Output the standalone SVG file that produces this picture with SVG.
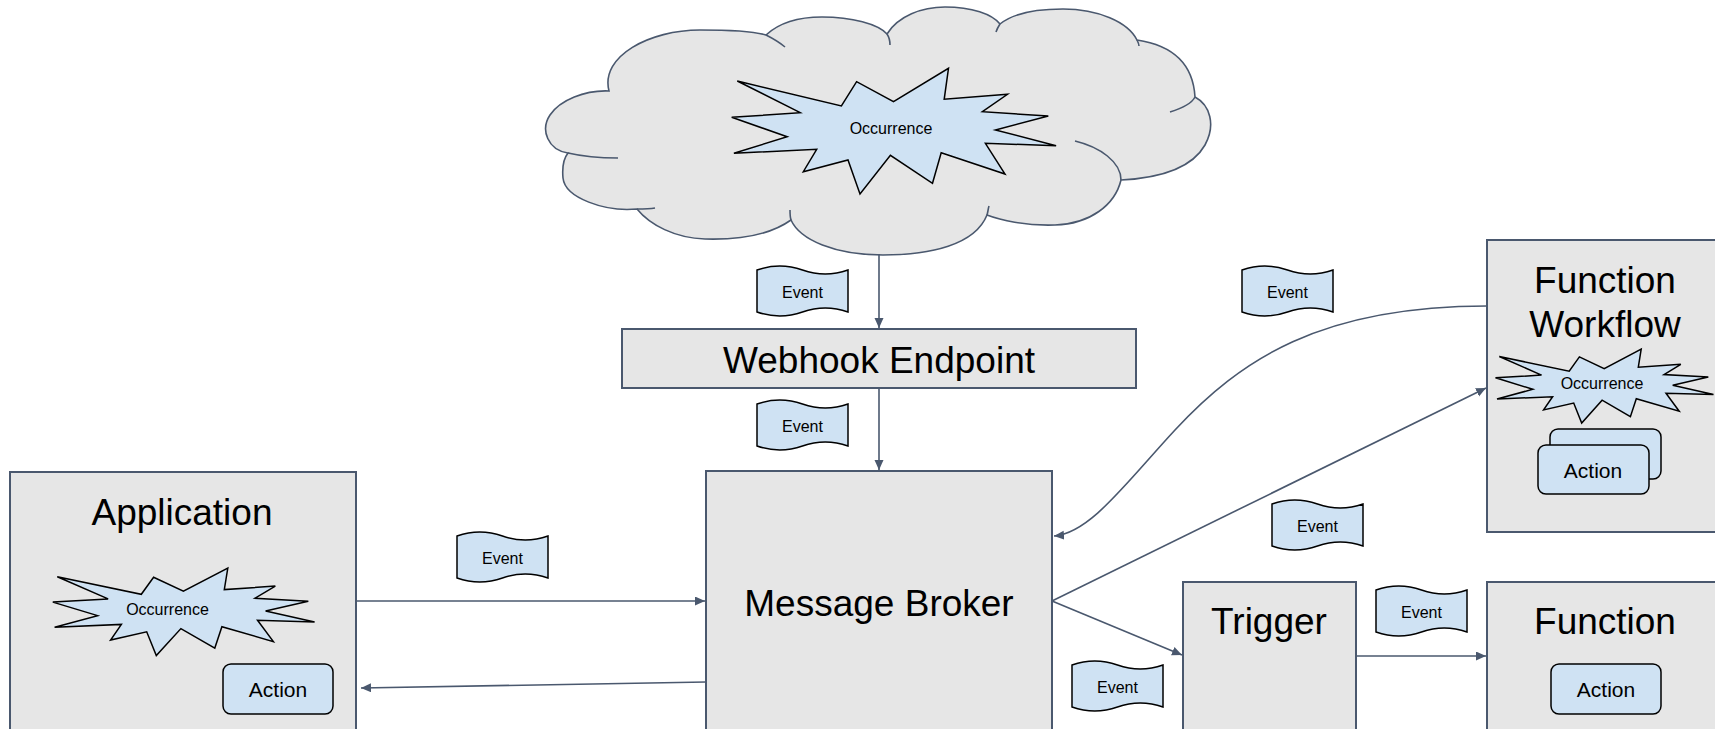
<svg xmlns="http://www.w3.org/2000/svg" width="1715" height="729" viewBox="0 0 1715 729">
<defs>
<style>
.box{fill:#e6e6e6;stroke:#4a586e;stroke-width:2}
.cloud{fill:#e6e6e6;stroke:#4a586e;stroke-width:1.6}
.stub{fill:none;stroke:#4a586e;stroke-width:1.6}
.lbl{font-family:"Liberation Sans",Arial,sans-serif;font-size:37px;fill:#000;text-anchor:middle}
.sm{font-family:"Liberation Sans",Arial,sans-serif;font-size:16px;fill:#000;text-anchor:middle}
.act{font-family:"Liberation Sans",Arial,sans-serif;font-size:21px;fill:#000;text-anchor:middle}
.burst{fill:#cfe2f3;stroke:#000;stroke-width:1.5;stroke-linejoin:miter}
.flag{fill:#cfe2f3;stroke:#000;stroke-width:1.5}
.action{fill:#cfe2f3;stroke:#000;stroke-width:1.5}
.conn{fill:none;stroke:#4a586e;stroke-width:1.6;marker-end:url(#ah)}
</style>
<marker id="ah" markerUnits="userSpaceOnUse" markerWidth="11" markerHeight="10" refX="10" refY="4.5" orient="auto"><path d="M0,0 L10,4.5 L0,9 z" fill="#4a586e"/></marker>
<path id="flag" d="M0,4 Q22.75,-4 45.5,4 T91,4 L91,46 Q68.25,38 45.5,46 T0,46 Z"/>
</defs>
<rect width="1715" height="729" fill="#fff"/>

<g id="cloud">
<path class="cloud" d="M609,91 C600,56 650,30 700,30 C735,30 756,32 766,35 C780,22 800,17 822,17 C852,17 878,24 887,34 C898,16 922,7 945,7 C972,7 992,14 1000,24 C1015,12 1040,9 1063,9 C1098,9 1128,22 1137,40 C1170,45 1193,62 1195,97 C1210,105 1216,125 1205,145 C1192,168 1160,178 1121,180 C1115,205 1090,224 1055,225 C1025,226 1000,220 987,215 C975,245 930,255 883,255 C835,255 800,240 791,220 C770,235 740,240 705,239 C675,238 650,225 637,209 C605,212 565,198 563,178 C562,167 564,158 568,153 C548,150 540,130 550,115 C560,100 585,90 609,91 Z"/>
<path class="stub" d="M766,35 C772,38 779,42 785,47 M887,34 C889,37 890,41 890,45 M1000,24 C998,27 997,29 996,32 M1137,40 C1138,42 1139,44 1139,46 M1195,97 C1192,103 1183,108 1170,112 M1121,180 C1121,162 1100,147 1075,141 M987,215 C988,212 988,209 989,206 M791,220 C790,217 790,213 790,210 M637,209 C643,209 649,209 655,208 M568,153 C585,157 600,158 618,158"/>
<polygon class="burst" points="737.3,81 841.4,106 856.6,81.7 893.5,101.7 948.5,68.3 944.2,99.3 1007.5,94.3 982.4,111.7 1048.3,116 995.4,130 1056.1,145.7 985.4,143.3 1005,174 941.2,152.7 932.5,183.3 890.4,155.3 860,194 848,160 803.3,171.7 816.7,149.3 733.9,153.3 787.2,136.7 731.7,117.3 800.2,112.7"/>
<text class="sm" x="891" y="133.5">Occurrence</text>
</g>

<g id="connectors">
<line class="conn" x1="879" y1="254" x2="879" y2="328"/>
<line class="conn" x1="879" y1="388" x2="879" y2="470"/>
<line class="conn" x1="357" y1="601" x2="705" y2="601"/>
<line class="conn" x1="706" y1="682" x2="361" y2="688"/>
<path class="conn" d="M1487,306 C1320,306 1240,360 1175,430 C1125,484 1090,533 1054,536"/>
<line class="conn" x1="1052" y1="601" x2="1486" y2="388"/>
<line class="conn" x1="1052" y1="601" x2="1182" y2="655"/>
<line class="conn" x1="1356" y1="656" x2="1486" y2="656"/>
</g>

<g id="webhook">
<rect class="box" x="622" y="329" width="514" height="59"/>
<text class="lbl" x="879" y="373">Webhook Endpoint</text>
</g>

<g id="application">
<rect class="box" x="10" y="472" width="346" height="280"/>
<text class="lbl" x="182" y="525">Application</text>
<polygon class="burst" points="57.3,576.8 141.3,594.3 153.6,577.3 183.4,591.2 227.8,568 224.3,589.6 275.3,586.1 255.1,598.2 308.3,601.2 265.6,611 314.6,621.9 257.5,620.2 273.4,641.6 221.9,626.7 214.8,648.1 180.9,628.6 156.3,655.5 146.7,631.8 110.6,640 121.4,624.4 54.6,627.2 97.6,615.6 52.8,602.1 108.1,598.9"/>
<text class="sm" x="167.5" y="615">Occurrence</text>
<rect class="action" x="223" y="664" width="110" height="50" rx="8"/>
<text class="act" x="278" y="697">Action</text>
</g>

<g id="broker">
<rect class="box" x="706" y="471" width="346" height="280"/>
<text class="lbl" x="879" y="616">Message Broker</text>
</g>

<g id="function-workflow">
<rect class="box" x="1487" y="240" width="260" height="292"/>
<text class="lbl" x="1605" y="293">Function</text>
<text class="lbl" x="1605" y="337">Workflow</text>
<polygon class="burst" points="1499.3,356.5 1569.2,371.2 1579.4,356.9 1604.2,368.7 1641.2,349 1638.3,367.2 1680.8,364.3 1664,374.6 1708.3,377.1 1672.7,385.3 1713.5,394.6 1666,393.2 1679.2,411.2 1636.3,398.7 1630.4,416.7 1602.1,400.2 1581.7,423 1573.7,403 1543.6,409.9 1552.6,396.7 1497,399 1532.8,389.3 1495.5,377.8 1541.5,375.1"/>
<text class="sm" x="1602" y="389">Occurrence</text>
<rect class="action" x="1550" y="429" width="111" height="50" rx="8"/>
<rect class="action" x="1538" y="445" width="111" height="49" rx="8"/>
<text class="act" x="1593" y="478">Action</text>
</g>

<g id="trigger">
<rect class="box" x="1183" y="582" width="173" height="170"/>
<text class="lbl" x="1269" y="634">Trigger</text>
</g>

<g id="function">
<rect class="box" x="1487" y="582" width="260" height="170"/>
<text class="lbl" x="1605" y="634">Function</text>
<rect class="action" x="1551" y="664" width="110" height="50" rx="8"/>
<text class="act" x="1606" y="697">Action</text>
</g>

<g id="events">
<use href="#flag" class="flag" x="757" y="266"/>
<text class="sm" x="802.5" y="297.5">Event</text>
<use href="#flag" class="flag" x="757" y="400"/>
<text class="sm" x="802.5" y="431.5">Event</text>
<use href="#flag" class="flag" x="457" y="532"/>
<text class="sm" x="502.5" y="563.5">Event</text>
<use href="#flag" class="flag" x="1242" y="266"/>
<text class="sm" x="1287.5" y="297.5">Event</text>
<use href="#flag" class="flag" x="1272" y="500"/>
<text class="sm" x="1317.5" y="531.5">Event</text>
<use href="#flag" class="flag" x="1376" y="586"/>
<text class="sm" x="1421.5" y="617.5">Event</text>
<use href="#flag" class="flag" x="1072" y="661"/>
<text class="sm" x="1117.5" y="692.5">Event</text>
</g>
</svg>
